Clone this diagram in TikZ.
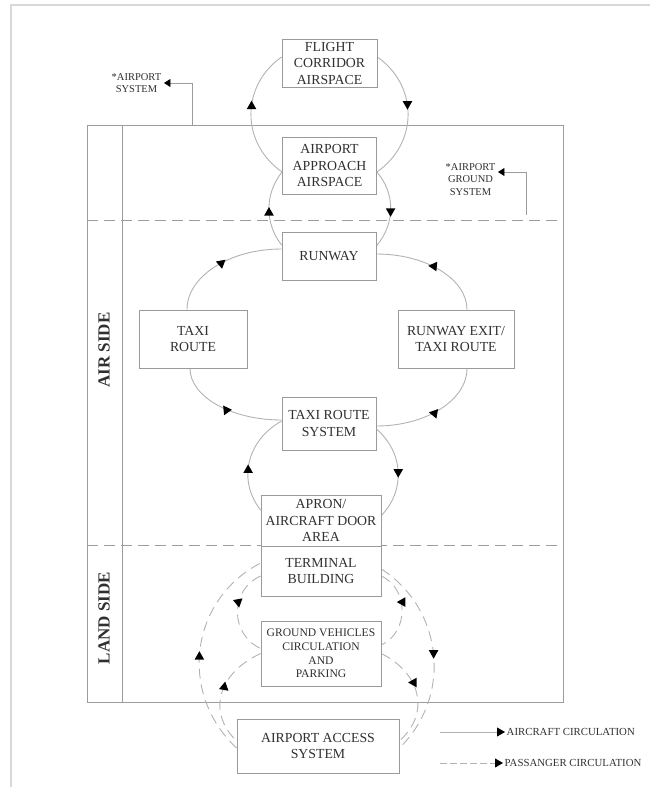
\documentclass[tikz,border=0pt]{standalone}
\usepackage{fontspec}
\setmainfont{Liberation Serif}
\usetikzlibrary{calc,decorations.markings,arrows.meta}
\pgfdeclarelayer{bg}
\pgfsetlayers{bg,main}
\definecolor{ink}{HTML}{303030}
\definecolor{boxgray}{HTML}{9A9A9A}
\definecolor{arcgray}{HTML}{B2B2B2}
\definecolor{framegray}{HTML}{9C9C9C}
\definecolor{pagegray}{HTML}{D8D8D8}
\tikzset{
  box/.style={draw=boxgray, fill=white, line width=0.8pt, text=ink, align=center,
    inner sep=0pt, font=\fontsize{13.8}{16.5}\selectfont},
  smallbox/.style={box, font=\fontsize{11.6}{13.7}\selectfont},
  flow/.style={draw=arcgray, line width=0.9pt},
  pass/.style={flow, dash pattern=on 10pt off 6pt},
  flowtip/.style 2 args={postaction={decorate, decoration={markings,
    mark=at position #1 with {\pgftransformresetnontranslations
      \fill[black, rotate=#2] (4.5pt,0pt) -- (-4pt,4.8pt) -- (-4pt,-4.8pt) -- cycle;}}}},
  zone/.style={draw=framegray, line width=0.8pt},
  zonesplit/.style={zone, dash pattern=on 11pt off 6pt},
  side/.style={text=ink, font=\bfseries\fontsize{17}{20}\selectfont, inner sep=0pt},
  note/.style={text=ink, align=center, font=\fontsize{10.5}{12.3}\selectfont, inner sep=2.5pt},
  notearrow/.style={draw=framegray, line width=0.8pt, -{Triangle[length=6.5pt,width=8pt,color=black]}},
  legend/.style={text=ink, font=\fontsize{10.8}{13}\selectfont, inner sep=1.5pt},
  legarrow/.style={flow, -{Triangle[length=8pt,width=9pt,color=black]}}
}
\begin{document}
\begin{tikzpicture}[x=1pt,y=-1pt]
\useasboundingbox (0,0) rectangle (650,787);

% elements of the airport system
\node[box, minimum width=95pt, minimum height=48pt] (flight) at (329.5,63) {FLIGHT\\CORRIDOR\\AIRSPACE};
\node[box, minimum width=94pt, minimum height=57pt] (approach) at (329.5,165.5) {AIRPORT\\APPROACH\\AIRSPACE};
\node[box, minimum width=94pt, minimum height=48pt] (runway) at (329,256) {RUNWAY};
\node[box, minimum width=108pt, minimum height=58pt] (taxi) at (193,339) {TAXI\\ROUTE};
\node[box, minimum width=116pt, minimum height=58pt] (exit) at (456,339) {RUNWAY EXIT/\\TAXI ROUTE};
\node[box, minimum width=94pt, minimum height=53pt] (taxisys) at (329,423.5) {TAXI ROUTE\\SYSTEM};
\node[box, minimum width=120pt, minimum height=51pt] (apron) at (321,520.5) {APRON/\\AIRCRAFT DOOR\\AREA};
\node[box, minimum width=120pt, minimum height=50pt] (terminal) at (321,571) {TERMINAL\\BUILDING};
\node[smallbox, minimum width=120pt, minimum height=65pt] (gv) at (321,653.5) {GROUND VEHICLES\\CIRCULATION\\AND\\PARKING};
\node[box, minimum width=162pt, minimum height=54pt] (access) at (318,746) {AIRPORT ACCESS\\SYSTEM};

% side labels
\node[side, rotate=90] (airside) at (104,350) {AIR SIDE};
\node[side, rotate=90] (landside) at (104,618) {LAND SIDE};

% system boundary notes
\node[note] (sysnote) at (136.5,83) {*AIRPORT\\SYSTEM};
\node[note] (groundnote) at (470.5,179.5) {*AIRPORT\\GROUND\\SYSTEM};
\coordinate (sysfoot) at (192,125);
\coordinate (groundfoot) at (526,215);
\coordinate (groundbend) at (526,172);
\draw[notearrow] (sysfoot) |- (sysnote.east);
\draw[notearrow] (groundfoot) -- (groundbend) -- (groundbend -| groundnote.east);

% legend
\node[legend, anchor=west] (legair) at (505,732) {AIRCRAFT CIRCULATION};
\node[legend, anchor=west] (legpass) at (503,763) {PASSANGER CIRCULATION};
\coordinate (legairfrom) at (440,732);
\coordinate (legpassfrom) at (440,763);
\draw[legarrow] (legairfrom) -- (legair.west);
\draw[legarrow, dash pattern=on 7pt off 3pt] (legpassfrom) -- (legpass.west);

\begin{pgfonlayer}{bg}
% page edge
\draw[pagegray, line width=2pt] (11,787) -- (11,5) -- (650,5);
% zones
\draw[zone] (87,125) rectangle (563,702);
\draw[zone] (122,125) -- (122,702);
\draw[zonesplit] (87,220) -- (563,220);
\draw[zonesplit] (87,545) -- (563,545);

% airspace loop
\draw[flow, flowtip={0.57}{90}] ($(approach.west)+(0,6.5)$) .. controls (240.6,143.1) and (240.6,85.9) .. ($(flight.west)+(0,-6)$);
\draw[flow, flowtip={0.43}{-90}] ($(flight.east)+(0,-6)$) .. controls (418.4,85.9) and (418.4,143.1) .. ($(approach.east)+(0,6.5)$);
% approach / runway loop
\draw[flow, flowtip={0.46}{90}] ($(runway.west)+(0,-11)$) .. controls (264.6,223.6) and (264.6,193.4) .. ($(approach.west)+(0,6.5)$);
\draw[flow, flowtip={0.54}{-90}] ($(approach.east)+(0,6.5)$) .. controls (395.4,193.4) and (395.4,223.6) .. ($(runway.east)+(0,-10)$);
% runway / taxiway loop
\draw[flow, flowtip={0.5}{40}] ($(taxi.north)+(-6,0)$) .. controls (187,276.3) and (229.5,249) .. ($(runway.west)+(0,-7)$);
\draw[flow, flowtip={0.5}{175}] ($(exit.north)+(11,0)$) .. controls (467,279.1) and (426.3,254) .. ($(runway.east)+(0,-2)$);
\draw[flow, flowtip={0.5}{125}] ($(taxi.south)+(-3,0)$) .. controls (190,396.7) and (231.2,420) .. ($(taxisys.west)+(0,-3.5)$);
\draw[flow, flowtip={0.5}{170}] ($(exit.south)+(11,0)$) .. controls (467,400) and (426.3,426) .. ($(taxisys.east)+(0,2.5)$);
% taxi route system / apron loop
\draw[flow, flowtip={0.42}{90}] ($(apron.west)+(0,-10.5)$) .. controls (237.3,480.5) and (246.8,440.5) .. ($(taxisys.west)+(0,-2.5)$);
\draw[flow, flowtip={0.52}{-90}] ($(taxisys.east)+(0,5.5)$) .. controls (403.7,452.5) and (405.5,490.3) .. ($(apron.east)+(0,-5)$);
% passenger circulation
\draw[pass, flowtip={0.47}{90}] ($(access.west)+(0,2)$) .. controls (178.2,693.5) and (189.5,600.1) .. ($(terminal.west)+(0,-8)$);
\draw[pass, flowtip={0.5}{-90}] ($(terminal.east)+(0,-2)$) .. controls (443.6,609.4) and (452.4,696.2) .. ($(access.east)+(0,2)$);
\draw[pass, flowtip={0.4}{-80}] ($(terminal.west)+(0,5)$) .. controls (229.7,589.8) and (229.7,634.2) .. ($(gv.west)+(0,-5)$);
\draw[pass, flowtip={0.4}{180}] ($(terminal.east)+(0,5)$) .. controls (409,589) and (409,632) .. ($(gv.east)+(0,-8.5)$);
\draw[pass, flowtip={0.45}{80}] (gv.west) .. controls (217.7,673.3) and (207,712.4) .. ($(access.west)+(0,-5)$);
\draw[pass, flowtip={0.4}{180}] (gv.east) .. controls (420.3,673.3) and (431,712.4) .. ($(access.east)+(0,-5)$);
\end{pgfonlayer}
\end{tikzpicture}
\end{document}
